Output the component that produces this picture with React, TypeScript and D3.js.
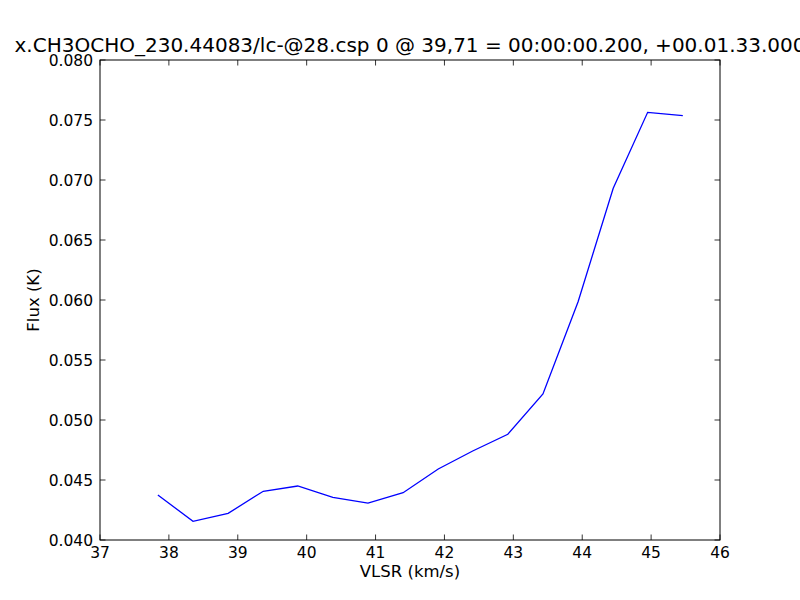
import React, { useEffect, useRef } from "react";
import * as d3 from "d3";

const vlsr = [37.84, 38.35, 38.86, 39.37, 39.87, 40.38, 40.89, 41.4, 41.91, 42.41, 42.92, 43.43, 43.94, 44.45, 44.95, 45.46];
const flux = [0.04375, 0.04156, 0.04222, 0.04406, 0.0445, 0.04356, 0.04308, 0.04394, 0.04592, 0.04742, 0.04881, 0.05217, 0.05986, 0.06931, 0.07564, 0.07536];
const xTicks = [37, 38, 39, 40, 41, 42, 43, 44, 45, 46];
const yTicks = [0.04, 0.045, 0.05, 0.055, 0.06, 0.065, 0.07, 0.075, 0.08];

const title = "x.CH3OCHO_230.44083/lc-@28.csp 0 @ 39,71 = 00:00:00.200, +00.01.33.000";

function App() {
  const ref = useRef<SVGSVGElement>(null);

  useEffect(() => {
    const svg = d3.select(ref.current);
    svg.selectAll("*").remove();
    const m = { left: 100, right: 720, top: 60, bottom: 540 };
    const font = "DejaVu Sans, sans-serif";

    const x = d3.scaleLinear().domain([37, 46]).range([m.left, m.right]);
    const y = d3.scaleLinear().domain([0.04, 0.08]).range([m.bottom, m.top]);

    svg.append("rect").attr("width", 800).attr("height", 600).attr("fill", "#fff");

    const line = d3
      .line<number>()
      .x((d, i) => x(vlsr[i]))
      .y(d => y(d));

    svg
      .append("path")
      .datum(flux)
      .attr("d", line)
      .attr("fill", "none")
      .attr("stroke", "#0000ff")
      .attr("stroke-width", 1.3);

    const tl = 5.5;
    const g = svg.append("g").attr("stroke", "#000").attr("stroke-width", 0.8);
    xTicks.forEach(t => {
      g.append("line").attr("x1", x(t)).attr("x2", x(t)).attr("y1", m.bottom).attr("y2", m.bottom - tl);
      g.append("line").attr("x1", x(t)).attr("x2", x(t)).attr("y1", m.top).attr("y2", m.top + tl);
    });
    yTicks.forEach(t => {
      g.append("line").attr("x1", m.left).attr("x2", m.left + tl).attr("y1", y(t)).attr("y2", y(t));
      g.append("line").attr("x1", m.right).attr("x2", m.right - tl).attr("y1", y(t)).attr("y2", y(t));
    });

    svg
      .append("rect")
      .attr("x", m.left)
      .attr("y", m.top)
      .attr("width", m.right - m.left)
      .attr("height", m.bottom - m.top)
      .attr("fill", "none")
      .attr("stroke", "#000")
      .attr("stroke-width", 1);

    svg
      .selectAll(".xl")
      .data(xTicks)
      .enter()
      .append("text")
      .attr("x", d => x(d))
      .attr("y", 558)
      .attr("text-anchor", "middle")
      .attr("font-family", font)
      .attr("font-size", 15.5)
      .text(d => d);

    svg
      .selectAll(".yl")
      .data(yTicks)
      .enter()
      .append("text")
      .attr("x", 93)
      .attr("y", d => y(d) + 5.5)
      .attr("text-anchor", "end")
      .attr("font-family", font)
      .attr("font-size", 15.5)
      .text(d => d3.format(".3f")(d));

    svg
      .append("text")
      .attr("x", 410)
      .attr("y", 577)
      .attr("text-anchor", "middle")
      .attr("font-family", font)
      .attr("font-size", 16.5)
      .text("VLSR (km/s)");

    svg
      .append("text")
      .attr("transform", "translate(39,300) rotate(-90)")
      .attr("text-anchor", "middle")
      .attr("font-family", font)
      .attr("font-size", 16.5)
      .text("Flux (K)");

    svg
      .append("text")
      .attr("x", 410)
      .attr("y", 52)
      .attr("text-anchor", "middle")
      .attr("font-family", font)
      .attr("font-size", 20)
      .text(title);
  }, []);

  return <svg ref={ref} width={800} height={600} style={{ position: "absolute", left: 0, top: 0 }} />;
}

export default App;
